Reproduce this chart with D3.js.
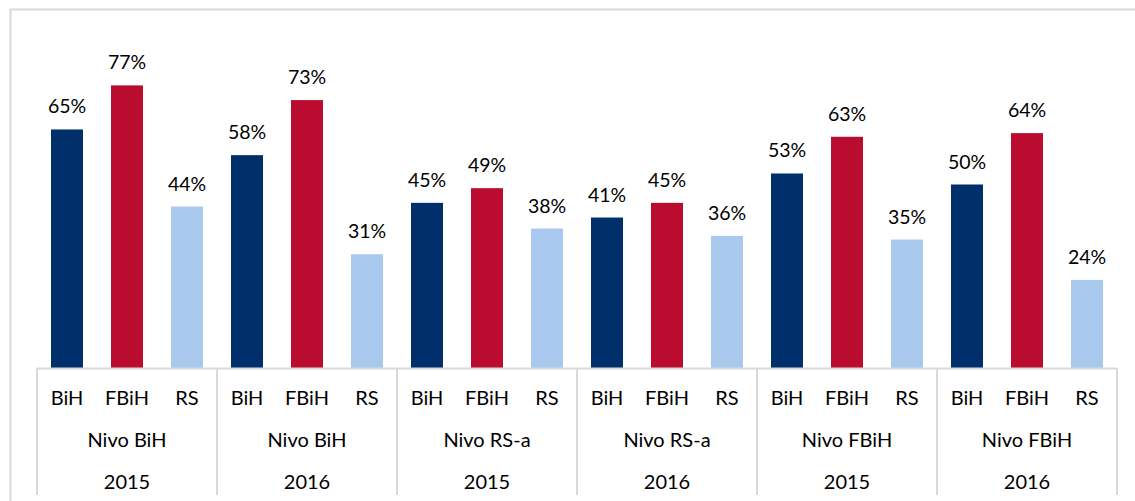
<!DOCTYPE html>
<html>
<head>
<meta charset="utf-8">
<script src="https://cdn.jsdelivr.net/npm/d3@7"></script>
<style>
  html, body { margin: 0; padding: 0; background: #fff; }
  svg { display: block; }
  text { font-family: Lato, "Open Sans", sans-serif; fill: #000; }
</style>
</head>
<body>
<div id="chart"></div>
<script>
// --- Data ---
const series = ["BiH", "FBiH", "RS"];
const levels = ["Nivo BiH", "Nivo BiH", "Nivo RS-a", "Nivo RS-a", "Nivo FBiH", "Nivo FBiH"];
const years  = ["2015", "2016", "2015", "2016", "2015", "2016"];
const valuesBiH  = [65, 58, 45, 41, 53, 50];
const valuesFBiH = [77, 73, 49, 45, 63, 64];
const valuesRS   = [44, 31, 38, 36, 35, 24];

// --- Layout ---
const width = 1135, height = 501;
const axisLeft = 37, axisRight = 1117, baseY = 368, axisBottom = 495;
const colors = { BiH: "#002f6c", FBiH: "#ba0c2f", RS: "#a8c8ee", grid: "#d9d9d9" };

const svg = d3.select("#chart").append("svg")
  .attr("width", width).attr("height", height);

// frame (chart area border, partially visible)
svg.append("path")
  .attr("d", `M10.5,${height} V9.5 H${width}`)
  .attr("fill", "none")
  .attr("stroke", colors.grid)
  .attr("stroke-width", 2);

const groups = d3.range(levels.length);
const x0 = d3.scaleBand().domain(groups).range([axisLeft, axisRight]).padding(0);
const x1 = d3.scaleBand().domain(series).range([0, x0.bandwidth()])
  .paddingInner(28 / 60).paddingOuter(14 / 60);
const y = d3.scaleLinear().domain([0, 100]).range([baseY, 1]);

const rows = groups.map(i => ({
  i,
  vals: [
    { s: "BiH",  v: valuesBiH[i] },
    { s: "FBiH", v: valuesFBiH[i] },
    { s: "RS",   v: valuesRS[i] }
  ]
}));

const g = svg.append("g");
const grp = g.selectAll("g.grp").data(rows).join("g")
  .attr("class", "grp")
  .attr("transform", d => `translate(${x0(d.i)},0)`);

grp.selectAll("rect").data(d => d.vals).join("rect")
  .attr("x", d => x1(d.s))
  .attr("width", x1.bandwidth())
  .attr("y", d => y(d.v))
  .attr("height", d => baseY - y(d.v))
  .attr("fill", d => colors[d.s]);

grp.selectAll("text.lbl").data(d => d.vals).join("text")
  .attr("class", "lbl")
  .attr("x", d => x1(d.s) + x1.bandwidth() / 2)
  .attr("y", d => y(d.v) - 16)
  .attr("text-anchor", "middle")
  .style("font-size", "19.5px")
  .text(d => d.v + "%");

// axis line + group separators
g.append("line")
  .attr("x1", axisLeft).attr("x2", axisRight)
  .attr("y1", baseY + 0.5).attr("y2", baseY + 0.5)
  .attr("stroke", colors.grid).attr("stroke-width", 2);

g.selectAll("line.sep").data(d3.range(levels.length + 1)).join("line")
  .attr("class", "sep")
  .attr("x1", i => axisLeft + i * x0.step()).attr("x2", i => axisLeft + i * x0.step())
  .attr("y1", baseY).attr("y2", axisBottom)
  .attr("stroke", colors.grid).attr("stroke-width", 2);

// category labels (three levels)
grp.selectAll("text.ser").data(series).join("text")
  .attr("class", "ser")
  .attr("x", s => x1(s) + x1.bandwidth() / 2)
  .attr("y", 405)
  .attr("text-anchor", "middle")
  .style("font-size", "20px")
  .text(s => s);

grp.append("text")
  .attr("x", x0.bandwidth() / 2).attr("y", 447)
  .attr("text-anchor", "middle")
  .style("font-size", "20px")
  .text(d => levels[d.i]);

grp.append("text")
  .attr("x", x0.bandwidth() / 2).attr("y", 489)
  .attr("text-anchor", "middle")
  .style("font-size", "20px")
  .text(d => years[d.i]);
</script>
</body>
</html>
